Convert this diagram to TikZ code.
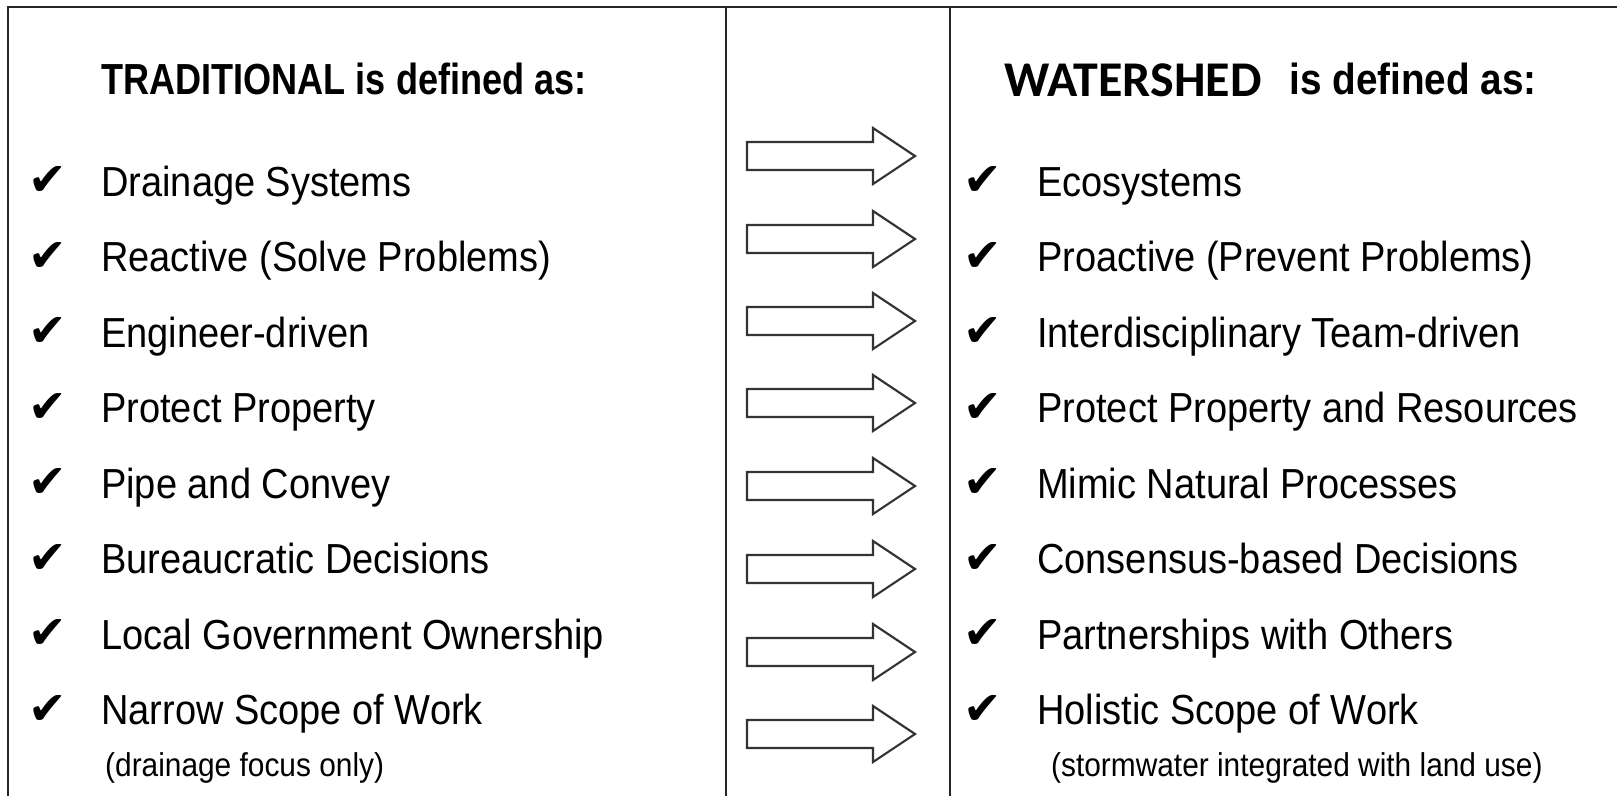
\documentclass[tikz,border=0pt]{standalone}
\usepackage{fontspec}
\setmainfont{Liberation Sans}
\newfontfamily\itemfont[FakeStretch=0.905]{Liberation Sans}
\newfontfamily\headfont[FakeStretch=0.83]{Liberation Sans}
\newfontfamily\headfontb[FakeStretch=0.89]{Liberation Sans}
\newfontfamily\calfont{Carlito}
\newfontfamily\symfont{DejaVu Sans}
\begin{document}
\begin{tikzpicture}[x=1pt,y=-1pt,
  rule/.style={line width=2.6pt, draw=black!85},
  blockarrow/.style={draw=black!80, line width=2.1pt, fill=white, line join=miter},
  item/.style={anchor=base west, inner sep=0pt, font=\itemfont\fontsize{42}{46}\selectfont},
  sub/.style={anchor=base west, inner sep=0pt, font=\itemfont\fontsize{33}{36}\selectfont},
  chk/.style={anchor=center, inner sep=0pt, font=\symfont\fontsize{46}{50}\selectfont},
  head/.style={anchor=base west, inner sep=0pt, font=\headfont\bfseries\fontsize{43.5}{48}\selectfont}]
\useasboundingbox (0,0) rectangle (1617,796);
% frame and column rules
\draw[rule] (8,796) -- (8,7) -- (1617,7);
\draw[rule] (726,7) -- (726,796);
\draw[rule] (950,7) -- (950,796);
% block arrows
\foreach \y [count=\k] in {156,239,321,403,486,569,652,734}{
  \draw[blockarrow] (747,\y-14) -- (873,\y-14) -- (873,\y-28) -- (915,\y)
     -- (873,\y+28) -- (873,\y+14) -- (747,\y+14) -- cycle;
}
% headers
\node[head] (lh) at (101,94) {TRADITIONAL is defined as:};
\node[anchor=base west, inner sep=0pt, font=\calfont\bfseries\fontsize{50}{54}\selectfont] (rh1) at (1004,96) {WATERSHED};
\node[head, font=\headfontb\bfseries\fontsize{43.5}{48}\selectfont, anchor=base east] (rh2) at (1537,94) {is defined as:};
% items
\foreach \lt/\rt [count=\k from 0] in {
  Drainage Systems/Ecosystems,
  Reactive (Solve Problems)/Proactive (Prevent Problems),
  Engineer-driven/Interdisciplinary Team-driven,
  Protect Property/Protect Property and Resources,
  Pipe and Convey/Mimic Natural Processes,
  Bureaucratic Decisions/Consensus-based Decisions,
  Local Government Ownership/Partnerships with Others,
  Narrow Scope of Work/Holistic Scope of Work}{
  \pgfmathsetmacro\yb{196+75.5*\k}
  \pgfmathsetmacro\yc{\yb-15}
  \node[chk] (cl\k) at (48,\yc) {✔};
  \node[item] (l\k) at (101,\yb) {\lt};
  \node[chk] (cr\k) at (983,\yc) {✔};
  \node[item] (r\k) at (1037,\yb) {\rt};
}
\node[sub] (lsub) at (105,776) {(drainage focus only)};
\node[sub] (rsub) at (1051,776) {(stormwater integrated with land use)};
\end{tikzpicture}
\end{document}
